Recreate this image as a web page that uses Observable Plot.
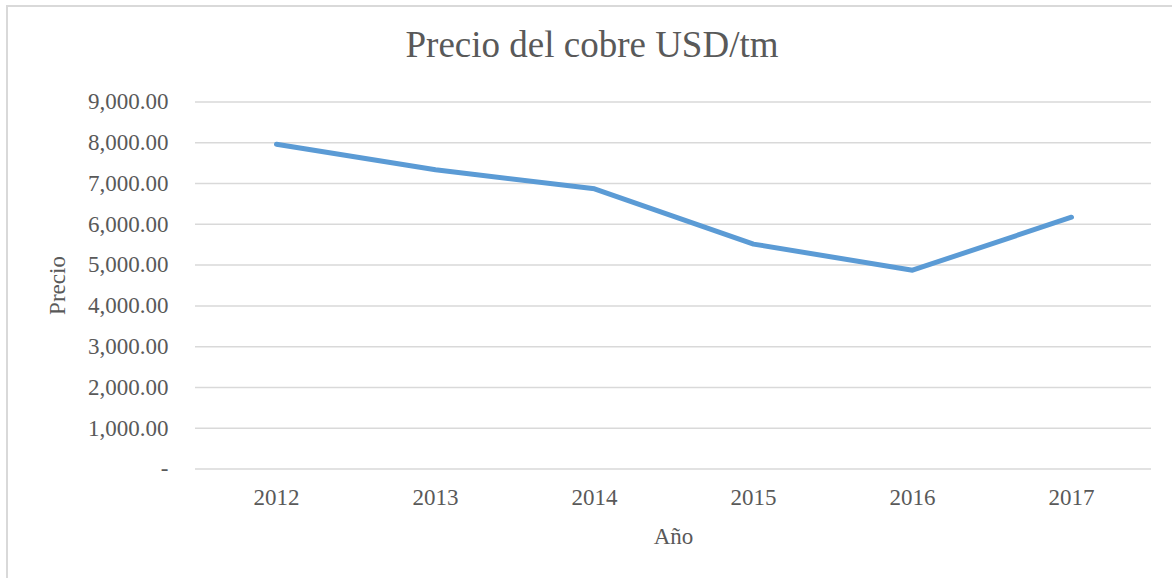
<!DOCTYPE html>
<html>
<head>
<meta charset="utf-8">
<script src="https://cdn.jsdelivr.net/npm/d3@7"></script>
<script src="https://cdn.jsdelivr.net/npm/@observablehq/plot@0.6"></script>
<style>
  html, body { margin: 0; padding: 0; background: #fff; overflow: hidden; }
  #wrap { position: relative; width: 1172px; height: 578px; overflow: hidden; }
  #frame { position: absolute; left: 6px; top: 5px; width: 1300px; height: 700px;
           border: 2px solid #d9d9d9; pointer-events: none; }
  #title { box-sizing: border-box; height: 80px; padding-top: 26px; padding-left: 12px;
           width: 1172px; text-align: center; font-family: "Liberation Serif", "Times New Roman", serif;
           font-size: 37px; line-height: 37px; color: #595959; }
  #chart svg { display: block; }
</style>
</head>
<body>
<div id="wrap">
  <div id="frame"></div>
  <div id="title">Precio del cobre USD/tm</div>
  <div id="chart"></div>
</div>
<script>
const years = ["2012", "2013", "2014", "2015", "2016", "2017"];
const prices = [7965, 7340, 6870, 5515, 4875, 6175];
const yTicks = [0, 1000, 2000, 3000, 4000, 5000, 6000, 7000, 8000, 9000];
const yLabel = "Precio";
const xLabel = "Año";

const data = years.map((year, i) => ({year, price: prices[i]}));
const fmt = d => d === 0 ? "-" : d3.format(",.2f")(d);
const font = "'Liberation Serif', 'Times New Roman', serif";

const chart = Plot.plot({
  width: 1172,
  height: 498,
  marginLeft: 195,
  marginRight: 21,
  marginTop: 21.5,
  marginBottom: 109.5,
  style: {fontFamily: font, fontSize: "23px", color: "#595959", background: "transparent", overflow: "visible"},
  x: {type: "point", domain: years, padding: 0.5, label: null},
  y: {domain: [0, 9000], label: null},
  marks: [
    Plot.ruleY(yTicks, {stroke: "#d9d9d9", strokeWidth: 1.5}),
    Plot.axisY({ticks: yTicks, tickSize: 0, tickPadding: 27, tickFormat: fmt, label: null}),
    Plot.axisX({tickSize: 0, tickPadding: 20, label: null}),
    Plot.line(data, {x: "year", y: "price", stroke: "#5b9bd5", strokeWidth: 5,
                     strokeLinecap: "round", strokeLinejoin: "round"}),
    Plot.text([yLabel], {text: d => d, frameAnchor: "left", dx: -138, rotate: -90,
                         textAnchor: "middle", lineAnchor: "middle", fill: "#595959"}),
    Plot.text([xLabel], {text: d => d, frameAnchor: "bottom", dy: 67.5,
                         textAnchor: "middle", lineAnchor: "middle", fill: "#595959"})
  ]
});
document.getElementById("chart").appendChild(chart);
</script>
</body>
</html>
